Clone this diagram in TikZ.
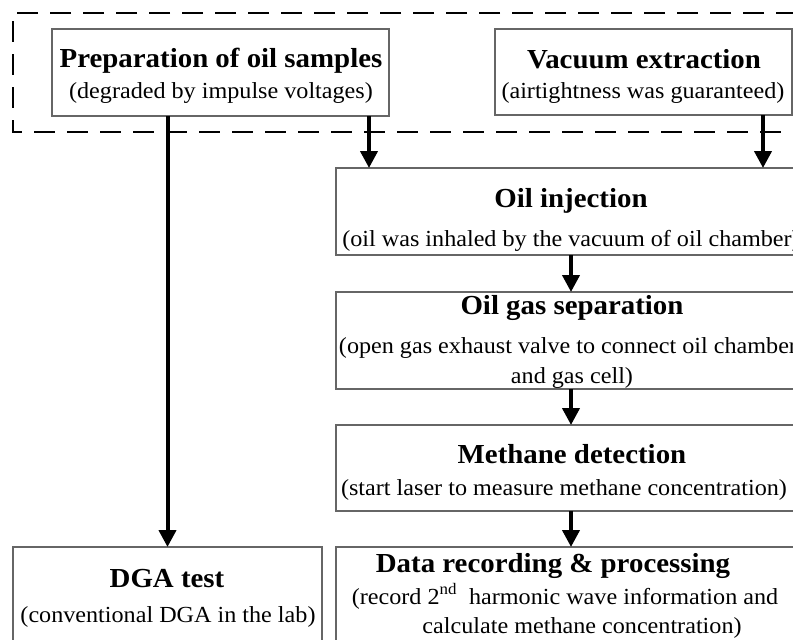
\documentclass[tikz,border=0pt]{standalone}
\usepackage{fontspec}
\setmainfont{Liberation Serif}
\newfontfamily\ttlfont[FakeStretch=1.05]{Liberation Serif}
\newfontfamily\subfont[FakeStretch=1.05]{Liberation Serif}
\usetikzlibrary{arrows.meta}
\begin{document}
\begin{tikzpicture}[x=1pt,y=-1pt,
  box/.style={draw=black!60, line width=1.5pt, inner sep=0pt, outer sep=0pt, anchor=north west},
  ttl/.style={font=\ttlfont\bfseries\fontsize{27.5}{30}\selectfont, inner sep=0pt, anchor=base},
  sub/.style={font=\subfont\fontsize{23}{28}\selectfont, inner sep=0pt, anchor=base},
  arr/.style={line width=4pt, -{Triangle[width=17pt,length=17pt]}},
  group/.style={draw=black, line width=2.6pt, dash pattern=on 21pt off 12pt}]
\useasboundingbox (0,0) rectangle (793,640);
\clip (0,0) rectangle (793,640);
% dashed group
\draw[group] (830,13) -- (13,13) -- (13,132) -- (830,132);
% boxes
\node[box, minimum width=337pt, minimum height=87pt] (prep) at (52,29) {};
\node[box, minimum width=297pt, minimum height=86pt] (vac) at (495,29) {};
\node[box, minimum width=472pt, minimum height=87pt] (inj) at (336,168) {};
\node[box, minimum width=472pt, minimum height=97pt] (sep) at (336,292) {};
\node[box, minimum width=472pt, minimum height=86pt] (det) at (336,425) {};
\node[box, minimum width=472pt, minimum height=120pt] (dat) at (336,547) {};
\node[box, minimum width=309pt, minimum height=120pt] (dga) at (13,547) {};
% texts
\node[ttl] (prept) at (221,67) {Preparation of oil samples};
\node[sub] (preps) at (221,98) {(degraded by impulse voltages)};
\node[ttl] (vact) at (644,68) {Vacuum extraction};
\node[sub] (vacs) at (643,98) {(airtightness was guaranteed)};
\node[ttl] (injt) at (571,207) {Oil injection};
\node[sub] (injs) at (571,246) {(oil was inhaled by the vacuum of oil chamber)};
\node[ttl] (sept) at (572,314) {Oil gas separation};
\node[sub] (seps1) at (572,353) {(open gas exhaust valve to connect oil chamber)};
\node[sub] (seps2) at (572,383) {and gas cell)};
\node[ttl] (dett) at (572,463) {Methane detection};
\node[sub] (dets) at (564,495) {(start laser to measure methane concentration)};
\node[ttl] (datt) at (553,572) {Data recording \& processing};
\node[sub] (dats1) at (565,604) {(record 2\textsuperscript{nd}~ harmonic wave information and};
\node[sub] (dats2) at (582,633) {calculate methane concentration)};
\node[ttl] (dgat) at (167,587) {DGA test};
\node[sub] (dgas) at (168,622) {(conventional DGA in the lab)};
% arrows
\draw[arr] (prep.south -| dga.north) -- (dga.north);
\coordinate (injl) at (369,168);
\coordinate (injr) at (763,168);
\draw[arr] (prep.south -| injl) -- (injl);
\draw[arr] (vac.south -| injr) -- (injr);
\draw[arr] (inj.south -| 571,0) -- (sep.north -| 571,0);
\draw[arr] (sep.south -| 571,0) -- (det.north -| 571,0);
\draw[arr] (det.south -| 571,0) -- (dat.north -| 571,0);
\end{tikzpicture}
\end{document}
